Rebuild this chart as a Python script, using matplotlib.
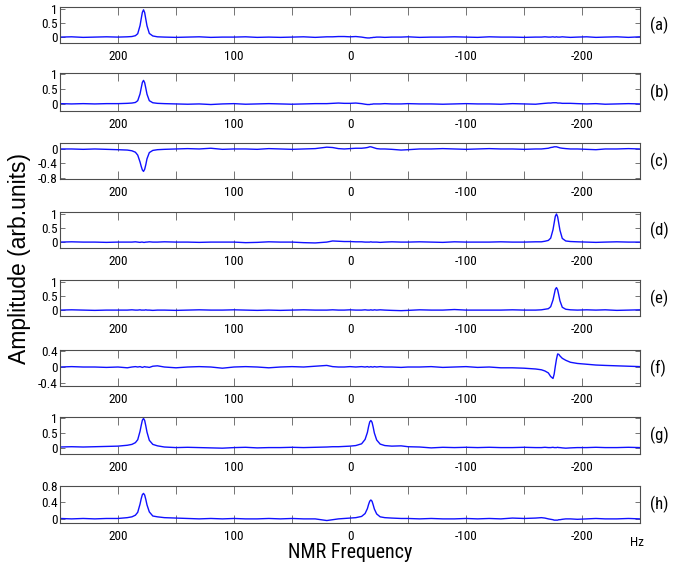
import numpy as np
import matplotlib
matplotlib.use('Agg')
import matplotlib.pyplot as plt

# frequency grid (Hz), denser around the three lines
freq = [250, 240, 230, 220, 210, 200,
        192, 188, 185, 183, 181, 180, 179, 178, 177, 176, 175, 173, 170, 166,
        160, 150, 140, 130, 120, 110, 100, 90, 80, 70, 60, 50, 40, 30, 20,
        15, 10, 5, 0, -5, -10,
        -13, -15, -16, -17, -18, -19, -20, -21, -23, -26, -30, -36, -44,
        -50, -60, -70, -80, -90, -100, -110, -120, -130, -140, -150, -160,
        -165, -168, -171, -173, -175, -176, -177, -178, -179, -180, -181, -183, -186, -190, -196,
        -204, -212, -220, -230, -240, -250]

amp_a = [0.00, 0.01, -0.01, 0.00, 0.01, 0.00,
         0.01, 0.02, 0.05, 0.12, 0.41, 0.65, 0.88, 0.97, 0.87, 0.63, 0.40, 0.13, 0.04, 0.01,
         0.00, -0.01, 0.00, 0.01, -0.01, 0.00, 0.00, 0.01, -0.01, 0.00, -0.01, 0.00, 0.01, -0.01, 0.01,
         0.01, 0.02, 0.02, 0.01, 0.02, 0.00,
         -0.02, -0.03, -0.03, -0.03, -0.02, -0.02, -0.01, -0.01, 0.00, 0.00, -0.01, 0.00, 0.00,
         0.01, -0.01, 0.00, 0.00, 0.01, 0.00, -0.01, 0.01, 0.00, 0.00, -0.01, 0.00,
         0.00, 0.01, 0.00, 0.00, 0.01, 0.00, 0.00, 0.01, 0.00, 0.00, 0.00, 0.01, 0.00, -0.01, 0.00,
         0.01, -0.01, 0.00, 0.01, -0.01, 0.01]

amp_b = [0.01, 0.00, 0.01, 0.00, 0.01, 0.01,
         0.02, 0.03, 0.05, 0.11, 0.34, 0.54, 0.73, 0.80, 0.72, 0.53, 0.33, 0.11, 0.04, 0.02,
         0.01, 0.00, -0.01, 0.00, -0.02, 0.00, 0.01, -0.01, 0.00, 0.01, 0.00, -0.01, 0.00, 0.01, 0.01,
         0.02, 0.03, 0.02, 0.02, 0.03, 0.01,
         -0.01, -0.02, -0.02, -0.02, -0.01, -0.01, 0.00, 0.00, 0.00, 0.00, 0.01, 0.00, 0.00,
         0.01, 0.00, 0.00, -0.01, 0.00, 0.01, 0.00, 0.00, -0.01, 0.01, 0.00, -0.01,
         0.01, 0.02, 0.03, 0.03, 0.04, 0.04, 0.04, 0.04, 0.03, 0.03, 0.03, 0.02, 0.02, 0.02, 0.01,
         0.00, 0.01, -0.01, 0.00, 0.01, 0.00]

amp_c = [0.00, 0.00, -0.01, 0.00, -0.01, -0.02,
         -0.03, -0.05, -0.09, -0.17, -0.36, -0.48, -0.58, -0.62, -0.56, -0.43, -0.27, -0.10, -0.04, -0.02,
         -0.01, 0.00, 0.01, 0.00, 0.02, -0.01, 0.00, 0.00, -0.01, 0.01, 0.00, -0.01, 0.00, 0.01, 0.05,
         0.04, 0.01, 0.00, 0.01, 0.02, 0.02,
         0.03, 0.04, 0.05, 0.06, 0.06, 0.05, 0.04, 0.03, 0.01, 0.00, 0.00, -0.01, -0.03,
         -0.02, 0.00, 0.00, 0.01, 0.00, -0.01, 0.00, 0.01, 0.00, 0.00, -0.01, 0.00,
         0.00, 0.01, 0.02, 0.04, 0.05, 0.06, 0.06, 0.06, 0.05, 0.04, 0.03, 0.02, 0.01, 0.00, 0.00,
         -0.01, -0.02, 0.00, 0.00, 0.01, 0.00]

amp_d = [0.00, 0.01, 0.00, 0.00, -0.01, 0.00,
         0.00, 0.00, 0.01, 0.00, -0.01, 0.00, 0.00, -0.01, -0.01, 0.00, 0.00, 0.01, 0.00, 0.00,
         0.01, 0.00, 0.00, -0.01, 0.00, 0.00, 0.00, -0.02, -0.01, 0.01, 0.00, 0.00, -0.02, -0.03, 0.00,
         0.04, 0.03, 0.02, 0.02, 0.01, 0.01,
         0.00, 0.00, 0.00, 0.00, 0.01, 0.00, 0.00, 0.00, 0.00, -0.01, 0.00, 0.01, 0.00,
         0.00, 0.01, 0.00, -0.01, 0.01, 0.00, 0.00, 0.00, 0.01, 0.00, 0.00, 0.01,
         0.01, 0.03, 0.06, 0.14, 0.44, 0.68, 0.92, 1.00, 0.90, 0.66, 0.42, 0.13, 0.04, 0.02, 0.01,
         0.00, -0.01, 0.00, 0.01, 0.00, 0.00]

amp_e = [0.00, 0.01, 0.00, -0.01, 0.00, 0.00,
         0.00, 0.01, 0.00, 0.00, 0.01, 0.00, 0.00, 0.00, 0.00, 0.01, 0.00, 0.00, -0.01, 0.00,
         0.00, -0.01, 0.00, 0.01, 0.00, 0.00, 0.01, 0.00, -0.01, 0.00, -0.01, 0.00, 0.01, 0.00, 0.00,
         0.01, 0.00, 0.00, 0.01, 0.00, 0.00,
         0.01, 0.00, 0.00, 0.00, 0.01, 0.00, 0.00, 0.01, 0.00, 0.01, 0.00, -0.01, -0.02,
         -0.01, 0.01, 0.00, 0.00, 0.02, 0.00, 0.00, 0.00, 0.00, 0.01, 0.00, 0.00,
         0.01, 0.03, 0.05, 0.12, 0.36, 0.55, 0.74, 0.80, 0.72, 0.53, 0.33, 0.10, 0.03, 0.01, 0.00,
         0.01, 0.00, 0.01, -0.01, 0.00, 0.01]

amp_f = [0.00, 0.01, 0.00, 0.00, -0.01, 0.00,
         -0.02, 0.00, 0.01, 0.00, 0.01, 0.00, -0.01, 0.00, 0.01, 0.00, 0.00, -0.01, 0.02, 0.03,
         0.00, -0.02, 0.00, 0.01, 0.00, -0.03, 0.00, 0.01, 0.00, -0.02, 0.00, 0.01, 0.00, 0.02, 0.04,
         0.01, 0.00, 0.00, 0.01, 0.00, 0.01,
         0.00, 0.01, 0.00, 0.00, 0.01, 0.00, 0.00, 0.01, 0.00, 0.01, 0.00, 0.00, -0.01,
         0.00, 0.00, 0.01, -0.01, 0.00, 0.01, -0.01, 0.00, -0.02, -0.02, -0.03, -0.05,
         -0.07, -0.10, -0.15, -0.24, -0.29, -0.18, 0.02, 0.20, 0.33, 0.32, 0.28, 0.22, 0.17, 0.12, 0.09,
         0.07, 0.05, 0.04, 0.03, 0.02, 0.01]

amp_g = [0.02, 0.03, 0.02, 0.03, 0.04, 0.05,
         0.08, 0.11, 0.17, 0.27, 0.56, 0.76, 0.94, 1.00, 0.93, 0.74, 0.53, 0.25, 0.11, 0.06,
         0.02, 0.00, 0.01, 0.00, -0.01, -0.02, 0.00, 0.01, -0.01, 0.00, 0.00, 0.01, 0.00, 0.01, 0.02,
         0.03, 0.03, 0.04, 0.05, 0.07, 0.13,
         0.28, 0.52, 0.72, 0.88, 0.93, 0.87, 0.70, 0.50, 0.26, 0.12, 0.07, 0.05, 0.06,
         0.03, 0.02, -0.01, 0.01, 0.00, 0.01, 0.00, 0.01, 0.00, 0.00, 0.01, 0.00,
         0.00, 0.01, 0.00, 0.00, 0.01, 0.00, 0.00, 0.00, 0.01, 0.00, 0.00, -0.01, -0.02, -0.01, 0.00,
         0.00, 0.01, 0.00, 0.00, 0.01, 0.00]

amp_h = [0.01, 0.00, 0.01, 0.00, 0.01, 0.01,
         0.03, 0.05, 0.09, 0.16, 0.36, 0.49, 0.59, 0.62, 0.58, 0.47, 0.34, 0.17, 0.07, 0.05,
         0.03, 0.02, 0.01, 0.00, 0.01, 0.00, 0.01, 0.00, 0.00, 0.01, 0.00, 0.01, 0.00, 0.00, -0.04,
         -0.02, 0.00, 0.01, 0.02, 0.03, 0.06,
         0.13, 0.25, 0.35, 0.43, 0.46, 0.43, 0.34, 0.24, 0.12, 0.05, 0.03, 0.02, 0.01,
         0.01, 0.00, 0.01, 0.00, 0.00, 0.01, 0.00, 0.01, 0.00, 0.02, 0.01, 0.02,
         0.03, 0.02, 0.00, -0.01, -0.02, -0.03, -0.03, -0.03, -0.03, -0.02, -0.02, -0.01, 0.00, 0.00, -0.01,
         0.00, 0.01, 0.00, 0.00, 0.01, 0.00]

panels = ['(a)', '(b)', '(c)', '(d)', '(e)', '(f)', '(g)', '(h)']
spectra = [amp_a, amp_b, amp_c, amp_d, amp_e, amp_f, amp_g, amp_h]
yticks = [[0, 0.5, 1], [0, 0.5, 1], [-0.8, -0.4, 0], [0, 0.5, 1],
          [0, 0.5, 1], [-0.4, 0, 0.4], [0, 0.5, 1], [0, 0.4, 0.8]]
ytlabels = [['0', '0.5', '1'], ['0', '0.5', '1'], ['-0.8', '-0.4', '0'], ['0', '0.5', '1'],
            ['0', '0.5', '1'], ['-0.4', '0', '0.4'], ['0', '0.5', '1'], ['0', '0.4', '0.8']]
ylims = [(-0.21, 1.07), (-0.24, 1.05), (-0.83, 0.165), (-0.21, 1.07),
         (-0.21, 1.07), (-0.48, 0.43), (-0.22, 1.05), (-0.1, 0.8)]
xticks = [250, 200, 150, 100, 50, 0, -50, -100, -150, -200, -250]
xtlabels = ['', '200', '', '100', '', '0', '', '-100', '', '-200', '']

# pixel layout of the panels (top, bottom)
tops = [7, 73, 143, 212, 280, 350, 417, 486]
bots = [43, 111, 179, 248, 316, 386, 454, 523]

W, H = 699, 579
narrow = ['Roboto Condensed', 'DejaVu Sans']

fig = plt.figure(figsize=(W / 100, H / 100), dpi=100)
left, right = 60, 640

for i in range(8):
    ax = fig.add_axes([left / W, 1 - bots[i] / H, (right - left) / W, (bots[i] - tops[i]) / H])
    ax.plot(freq, spectra[i], color='#1010ff', lw=1.0)
    ax.set_xlim(250, -250)
    ax.set_ylim(*ylims[i])
    ax.set_xticks(xticks)
    ax.set_xticklabels(xtlabels)
    ax.set_yticks(yticks[i])
    ax.set_yticklabels(ytlabels[i])
    ax.tick_params(axis='x', direction='in', top=True, length=6, width=0.7, color='0.45', pad=5)
    ax.tick_params(axis='y', direction='in', right=True, length=3.5, width=0.7, color='0.45', pad=1.5)
    for lab in ax.get_xticklabels() + ax.get_yticklabels():
        lab.set_family(narrow)
        lab.set_fontsize(9.5)
    for s in ax.spines.values():
        s.set_color('0.3')
        s.set_linewidth(0.8)
    ax.text(1.018, 0.5, panels[i], transform=ax.transAxes, ha='left', va='center',
            family=narrow, fontsize=12)

fig.text(20 / W, 1 - 258 / H, 'Amplitude (arb.units)', rotation=90, ha='center', va='center',
         family=['Liberation Sans', 'DejaVu Sans'], fontsize=16.5)
fig.text(350 / W, 1 - 553 / H, 'NMR Frequency', ha='center', va='center',
         family=narrow, fontsize=14.5)
fig.text(637 / W, 1 - 542 / H, 'Hz', ha='center', va='center', family=narrow, fontsize=9.5)

fig.savefig('out.png', dpi=100)
